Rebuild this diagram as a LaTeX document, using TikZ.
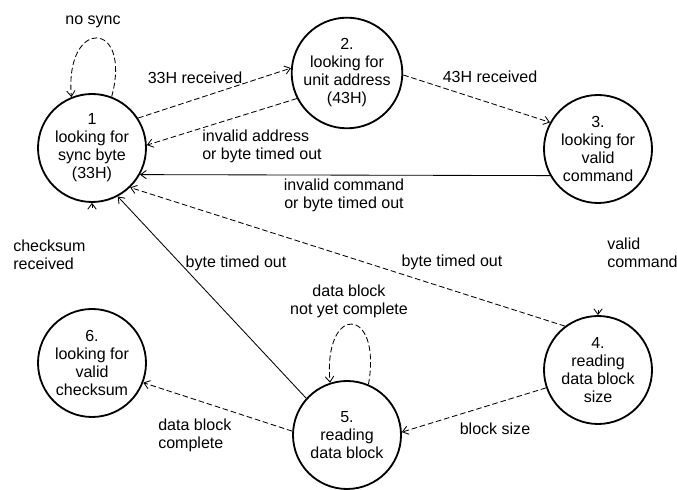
\documentclass[tikz,border=0pt]{standalone}
\usepackage{fontspec}
\setmainfont{Liberation Sans}
\usetikzlibrary{arrows.meta}
\begin{document}
\begin{tikzpicture}[>={Straight Barb[length=4pt,width=6pt]},
        every node/.append style={font=\fontsize{11.4}{12.8}\selectfont},
        state/.style={draw,circle,line width=1.3pt,minimum size=2.7cm,inner sep=0pt,align=center},
        trans/.style={->,dash pattern=on 4pt off 2pt,line width=.6pt},
        back/.style={->,line width=.6pt},
        lbl/.style={inner sep=0pt,align=center}]
        \useasboundingbox (0,0) rectangle (16.925,12.25);
        % states
        \node[state] (s1) at (2.3,8.55) {1\\looking for\\sync byte\\(33H)};
        \node[state] (s2) at (8.675,10.425) {2.\\looking for\\unit address\\(43H)};
        \node[state] (s3) at (14.95,8.525) {3.\\looking for\\valid\\command};
        \node[state] (s4) at (14.95,3.0) {4.\\reading\\data block\\size};
        \node[state] (s5) at (8.675,1.375) {5.\\reading\\data block};
        \node[state] (s6) at (2.3,3.175) {6.\\looking for\\valid\\checksum};
        % transitions
        \draw[trans] (s1.69) .. controls +(75:2cm) and +(95:2cm) .. (s1.112);
        \draw[trans] (s1.33) -- (s2.175);
        \draw[trans] (s2.207) -- (s1.3);
        \draw[trans] (s2.-2) -- (s3.151);
        \draw[back] (s3.209) -- (s1.-29);
        \draw[trans] (s4.127) -- (s1.-46);
        \draw[back] (s5.138) -- (s1.-62);
        \draw[trans] (s5.67) .. controls +(80:2cm) and +(95:2cm) .. (s5.108);
        \draw[trans] (s4.199) -- (s5.3);
        \draw[trans] (s5.176) -- (s6.-21);
        \coordinate (c34) at (14.95,4.5);
        \draw[->,line width=.6pt] (c34) -- (s4.north);
        \coordinate (c61) at (2.3,7.05);
        \draw[->,line width=.6pt] (c61) -- (s1.south);
        % labels
        \node[lbl] (l11) at (2.325,11.7) {no sync};
        \node[lbl] (l12) at (4.875,10.3) {33H received};
        \node[lbl,anchor=west,align=left] (l21) at (5.05,8.6) {invalid address\\or byte timed out};
        \node[lbl] (l23) at (12.25,10.325) {43H received};
        \node[lbl] (l31) at (8.6,7.375) {invalid command\\or byte timed out};
        \node[lbl] (l41) at (11.3,5.7) {byte timed out};
        \node[lbl] (l51) at (5.9,5.675) {byte timed out};
        \node[lbl,anchor=west,align=left] (l61) at (0.325,5.89) {checksum\\received};
        \node[lbl,anchor=west,align=left] (l34) at (15.175,5.94) {valid\\command};
        \node[lbl] (l55) at (8.725,4.725) {data block\\not yet complete};
        \node[lbl] (l45) at (12.375,1.525) {block size};
        \node[lbl,anchor=west,align=left] (l56) at (3.95,1.36) {data block\\complete};
\end{tikzpicture}
\end{document}
